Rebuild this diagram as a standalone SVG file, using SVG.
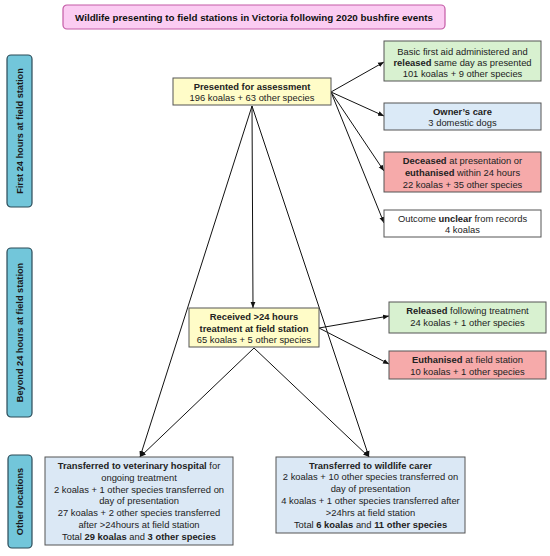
<svg xmlns="http://www.w3.org/2000/svg" width="550" height="556" viewBox="0 0 550 556">
<style>
text{font-family:"Liberation Sans",Arial,sans-serif;font-size:9.4px;fill:#222;text-anchor:middle}
.b{font-weight:bold}
.box{stroke:#555;stroke-width:1}
.side{fill:#72c6da;stroke:#2b4a57;stroke-width:1.2}
.side-t{font-size:9.2px;font-weight:bold;fill:#1a1a1a}
.title{font-size:9.8px;font-weight:bold;fill:#111}
.c line{stroke:#111;stroke-width:1;marker-end:url(#ah)}
</style>
<defs>
<marker id="ah" markerUnits="userSpaceOnUse" markerWidth="6" markerHeight="6" viewBox="0 0 6 6" refX="6" refY="3" orient="auto">
<path d="M0,0.6 L6,3 L0,5.4 Z" fill="#111"/>
</marker>
</defs>
<rect width="550" height="556" fill="#fff"/>

<g id="title">
<rect x="63" y="5" width="382" height="24" rx="4" fill="#fbccf2" stroke="#c35aa5" stroke-width="1.2"/>
<text class="title" x="254" y="20.5">Wildlife presenting to field stations in Victoria following 2020 bushfire events</text>
</g>

<g id="side1">
<rect class="side" x="7" y="55" width="25" height="152" rx="4"/>
<text class="side-t" transform="translate(23,131) rotate(-90)">First 24 hours at field station</text>
</g>
<g id="side2">
<rect class="side" x="7" y="248" width="25" height="169" rx="4"/>
<text class="side-t" transform="translate(23,332.5) rotate(-90)">Beyond 24 hours at field station</text>
</g>
<g id="side3">
<rect class="side" x="8" y="455" width="24" height="93" rx="4"/>
<text class="side-t" transform="translate(23,501.5) rotate(-90)">Other locations</text>
</g>

<g class="c" id="connectors">
<line x1="252" y1="106" x2="253" y2="308"/>
<line x1="252" y1="106" x2="140" y2="457"/>
<line x1="252" y1="106" x2="369" y2="457"/>
<line x1="254" y1="348" x2="140" y2="457"/>
<line x1="254" y1="348" x2="369" y2="457"/>
<line x1="331" y1="92" x2="384" y2="62"/>
<line x1="331" y1="92" x2="384" y2="116"/>
<line x1="331" y1="92" x2="384" y2="171"/>
<line x1="331" y1="92" x2="384" y2="223"/>
<line x1="319" y1="328" x2="389" y2="316"/>
<line x1="319" y1="328" x2="389" y2="364"/>
</g>

<g id="presented">
<rect class="box" x="173" y="78" width="158" height="27" fill="#fffcc8"/>
<text x="252" y="89.5" class="b">Presented for assessment</text>
<text x="252" y="101">196 koalas + 63 other species</text>
</g>

<g id="released-same-day">
<rect class="box" x="384" y="41" width="157" height="40" fill="#d8f1d0"/>
<text x="462.5" y="55">Basic first aid administered and</text>
<text x="462.5" y="66"><tspan class="b">released</tspan> same day as presented</text>
<text x="462.5" y="77">101 koalas + 9 other species</text>
</g>

<g id="owners-care">
<rect class="box" x="384" y="103" width="157" height="27" fill="#dbeaf7"/>
<text x="462.5" y="114.5" class="b">Owner’s care</text>
<text x="462.5" y="126">3 domestic dogs</text>
</g>

<g id="deceased">
<rect class="box" x="384" y="152" width="157" height="40" fill="#f6aaaa"/>
<text x="462.5" y="164"><tspan class="b">Deceased</tspan> at presentation or</text>
<text x="462.5" y="176"><tspan class="b">euthanised</tspan> within 24 hours</text>
<text x="462.5" y="187.5">22 koalas + 35 other species</text>
</g>

<g id="unclear">
<rect class="box" x="384" y="210" width="157" height="27" fill="#ffffff"/>
<text x="462.5" y="221.5">Outcome <tspan class="b">unclear</tspan> from records</text>
<text x="462.5" y="233">4 koalas</text>
</g>

<g id="received">
<rect class="box" x="189" y="308" width="130" height="39" fill="#fffcc8"/>
<text x="254" y="320" class="b">Received &gt;24 hours</text>
<text x="254" y="331.5" class="b">treatment at field station</text>
<text x="254" y="343">65 koalas + 5 other species</text>
</g>

<g id="released-treatment">
<rect class="box" x="389" y="302" width="157" height="31" fill="#d8f1d0"/>
<text x="467.5" y="314"><tspan class="b">Released</tspan> following treatment</text>
<text x="467.5" y="325.5">24 koalas + 1 other species</text>
</g>

<g id="euthanised-station">
<rect class="box" x="389" y="351" width="157" height="28" fill="#f6aaaa"/>
<text x="467.5" y="363"><tspan class="b">Euthanised</tspan> at field station</text>
<text x="467.5" y="374.5">10 koalas + 1 other species</text>
</g>

<g id="vet-hospital">
<rect class="box" x="45" y="457" width="188" height="88" fill="#dbe8f5"/>
<text x="139" y="469"><tspan class="b">Transferred to veterinary hospital</tspan> for</text>
<text x="139" y="481">ongoing treatment</text>
<text x="139" y="492.5">2 koalas + 1 other species transferred on</text>
<text x="139" y="504">day of presentation</text>
<text x="139" y="516">27 koalas + 2 other species transferred</text>
<text x="139" y="527.5">after &gt;24hours at field station</text>
<text x="139" y="539.5">Total <tspan class="b">29 koalas</tspan> and <tspan class="b">3 other species</tspan></text>
</g>

<g id="wildlife-carer">
<rect class="box" x="276" y="457" width="189" height="76" fill="#dbe8f5"/>
<text x="370.5" y="468.5" class="b">Transferred to wildlife carer</text>
<text x="370.5" y="480">2 koalas + 10 other species transferred on</text>
<text x="370.5" y="492">day of presentation</text>
<text x="370.5" y="504">4 koalas + 1 other species transferred after</text>
<text x="370.5" y="516">&gt;24hrs at field station</text>
<text x="370.5" y="527.5">Total <tspan class="b">6 koalas</tspan> and <tspan class="b">11 other species</tspan></text>
</g>
</svg>
